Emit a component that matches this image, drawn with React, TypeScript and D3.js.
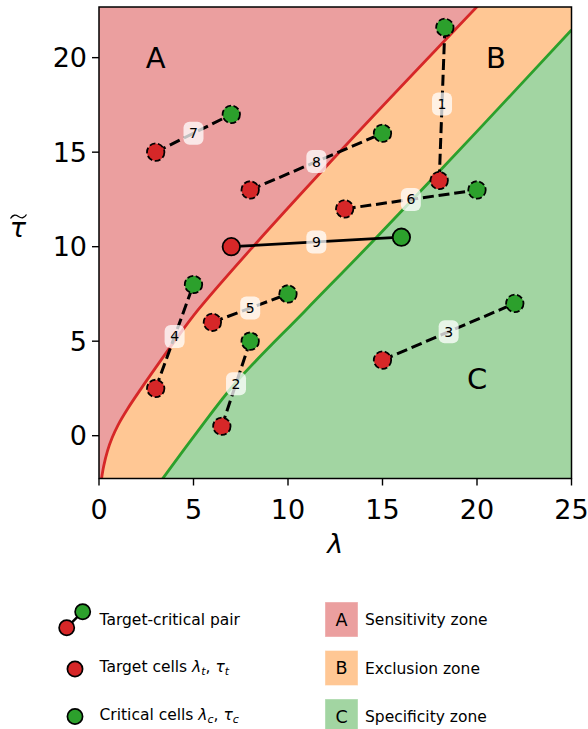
import React from "react";
import * as d3 from "d3";

// pairs of target / critical cells
const pairIds = [1, 2, 3, 4, 5, 6, 7, 8, 9];
const targetLambda = [18, 6.5, 15, 3, 6, 13, 3, 8, 7];
const targetTau = [13.5, 0.5, 4, 2.5, 6, 12, 15, 13, 10];
const criticalLambda = [18.3, 8, 22, 5, 10, 20, 7, 15, 16];
const criticalTau = [21.6, 5, 7, 8, 7.5, 13, 17, 16, 10.5];
const solidPairs = [9];

// zone boundaries
const sensitivityLambda = [0.13, 0.25, 0.45, 0.7, 1.0, 1.5, 2.2, 3.0, 4.0, 5.24, 8.06, 13, 20.1];
const sensitivityTau = [-2.3, -1.6, -0.8, -0.1, 0.55, 1.4, 2.45, 3.6, 5.0, 6.65, 9.9, 15.3, 22.8];
const specificityLambda = [3.35, 5.2, 7.23, 10.9, 14.59, 20, 25];
const specificityTau = [-2.3, 0.2, 2.8, 6.6, 10.39, 16.1, 21.47];

const zoneLetters = ["A", "B", "C"];
const zoneNames = ["Sensitivity zone", "Exclusion zone", "Specificity zone"];
const zoneLetterLambda = [3, 21, 20];
const zoneLetterTau = [20, 20, 3];

const ticks = [0, 5, 10, 15, 20, 25];
const yTicks = [0, 5, 10, 15, 20];

const RED = "#d62728";
const GREEN = "#2ca02c";
const zoneFill = ["#eb9f9f", "#ffc794", "#a2d5a2"];

const FONT = "DejaVu Sans, sans-serif";

export default function App() {
  const width = 588,
    height = 729;

  const x = d3.scaleLinear().domain([0, 25]).range([99, 571.5]);
  const y = d3.scaleLinear().domain([-2.265, 22.68]).range([478.5, 7]);
  const [x0, x1] = x.domain();
  const [y0, y1] = y.domain();

  const curve = d3
    .line<[number, number]>()
    .x(d => x(d[0]))
    .y(d => y(d[1]))
    .curve(d3.curveCatmullRom.alpha(0.5));

  const redPts = sensitivityLambda.map((l, i) => [l, sensitivityTau[i]] as [number, number]);
  const greenPts = specificityLambda.map((l, i) => [l, specificityTau[i]] as [number, number]);

  const bZone =
    curve(redPts) +
    `L${x(x1 + 1)},${y(y1 + 1)}L${x(x1 + 1)},${y(y0 - 1)}L${x(redPts[0][0])},${y(y0 - 1)}Z`;
  const cZone =
    curve(greenPts) + `L${x(x1 + 1)},${y(y0 - 1)}L${x(greenPts[0][0])},${y(y0 - 1)}Z`;

  const pairs = pairIds.map((id, i) => ({
    id,
    tx: x(targetLambda[i]),
    ty: y(targetTau[i]),
    cx: x(criticalLambda[i]),
    cy: y(criticalTau[i]),
    solid: solidPairs.includes(id)
  }));

  return (
    <div style={{ position: "absolute", left: 0, top: 0 }}>
      <svg width={width} height={height} style={{ display: "block", fontFamily: FONT }}>
        <defs>
          <clipPath id="plot">
            <rect x={x(x0)} y={y(y1)} width={x(x1) - x(x0)} height={y(y0) - y(y1)} />
          </clipPath>
        </defs>

        <g clipPath="url(#plot)">
          <rect x={x(x0)} y={y(y1)} width={x(x1) - x(x0)} height={y(y0) - y(y1)} fill={zoneFill[0]} />
          <path d={bZone} fill={zoneFill[1]} />
          <path d={cZone} fill={zoneFill[2]} />
          <path d={curve(redPts) || ""} fill="none" stroke={RED} strokeWidth={2.8} />
          <path d={curve(greenPts) || ""} fill="none" stroke={GREEN} strokeWidth={2.8} />

          {zoneLetters.map((z, i) => (
            <text
              key={z}
              x={x(zoneLetterLambda[i])}
              y={y(zoneLetterTau[i])}
              dy="0.36em"
              textAnchor="middle"
              fontSize={29}
            >
              {z}
            </text>
          ))}

          {pairs.map(p => (
            <line
              key={"l" + p.id}
              x1={p.tx}
              y1={p.ty}
              x2={p.cx}
              y2={p.cy}
              stroke="black"
              strokeWidth={p.solid ? 2.8 : 3}
              strokeDasharray={p.solid ? undefined : "11,4.8"}
            />
          ))}

          {pairs.map(p => {
            const mx = (p.tx + p.cx) / 2,
              my = (p.ty + p.cy) / 2;
            return (
              <g key={"t" + p.id}>
                <rect x={mx - 10} y={my - 11.5} width={20} height={23} rx={6} fill="white" fillOpacity={0.75} />
                <text x={mx} y={my} dy="0.36em" textAnchor="middle" fontSize={14}>
                  {p.id}
                </text>
              </g>
            );
          })}

          {pairs.map(p => (
            <g key={"m" + p.id}>
              <circle
                cx={p.tx}
                cy={p.ty}
                r={8.7}
                fill={RED}
                stroke="black"
                strokeWidth={1.8}
                strokeDasharray={p.solid ? undefined : "6,2.6"}
              />
              <circle
                cx={p.cx}
                cy={p.cy}
                r={8.7}
                fill={GREEN}
                stroke="black"
                strokeWidth={1.8}
                strokeDasharray={p.solid ? undefined : "6,2.6"}
              />
            </g>
          ))}
        </g>

        {/* frame */}
        <rect
          x={x(x0)}
          y={y(y1)}
          width={x(x1) - x(x0)}
          height={y(y0) - y(y1)}
          fill="none"
          stroke="black"
          strokeWidth={1.5}
        />

        {/* x axis */}
        {ticks.map(t => (
          <g key={"x" + t}>
            <line x1={x(t)} x2={x(t)} y1={y(y0)} y2={y(y0) + 7} stroke="black" strokeWidth={1.4} />
            <text x={x(t)} y={518.5} textAnchor="middle" fontSize={27}>
              {t}
            </text>
          </g>
        ))}
        <text x={x(12.5)} y={553} textAnchor="middle" fontSize={27} fontStyle="italic">
          λ
        </text>

        {/* y axis */}
        {yTicks.map(t => (
          <g key={"y" + t}>
            <line x1={x(x0) - 7} x2={x(x0)} y1={y(t)} y2={y(t)} stroke="black" strokeWidth={1.4} />
            <text x={x(x0) - 12} y={y(t)} dy="0.36em" textAnchor="end" fontSize={27}>
              {t}
            </text>
          </g>
        ))}
        <text x={18} y={237} textAnchor="middle" fontSize={27} fontStyle="italic">
          τ
        </text>
        <path
          d="M10.5,218.5 C13,214.5 15.5,214.5 18.5,216.5 C21.5,218.5 24,218.5 26.5,214.5"
          fill="none"
          stroke="black"
          strokeWidth={1.3}
        />

        {/* legend, left column */}
        <g fontSize={15.5}>
          <line x1={66.7} y1={627.7} x2={82.7} y2={611.7} stroke="black" strokeWidth={2.5} />
          <circle cx={66.7} cy={627.7} r={7.6} fill={RED} stroke="black" strokeWidth={1.7} />
          <circle cx={82.7} cy={611.7} r={7.6} fill={GREEN} stroke="black" strokeWidth={1.7} />
          <text x={99.5} y={624.5}>Target-critical pair</text>

          <circle cx={75} cy={669} r={7.6} fill={RED} stroke="black" strokeWidth={1.7} />
          <text x={99.5} y={672}>
            Target cells <tspan fontStyle="italic">λ</tspan>
            <tspan fontStyle="italic" fontSize={11} dy={3}>t</tspan>
            <tspan dy={-3}>, </tspan>
            <tspan fontStyle="italic">τ</tspan>
            <tspan fontStyle="italic" fontSize={11} dy={3}>t</tspan>
          </text>

          <circle cx={75} cy={716.5} r={7.6} fill={GREEN} stroke="black" strokeWidth={1.7} />
          <text x={99.5} y={720}>
            Critical cells <tspan fontStyle="italic">λ</tspan>
            <tspan fontStyle="italic" fontSize={11} dy={3}>c</tspan>
            <tspan dy={-3}>, </tspan>
            <tspan fontStyle="italic">τ</tspan>
            <tspan fontStyle="italic" fontSize={11} dy={3}>c</tspan>
          </text>
        </g>

        {/* legend, right column */}
        <g fontSize={15.5}>
          {zoneLetters.map((z, i) => {
            const top = 602 + i * 48.5;
            return (
              <g key={"lg" + z}>
                <rect x={325} y={top} width={33} height={35} fill={zoneFill[i]} stroke="white" strokeOpacity={0.4} />
                <text x={341.5} y={top + 17.5} dy="0.36em" textAnchor="middle" fontSize={17.5}>
                  {z}
                </text>
                <text x={365} y={top + 17.5} dy="0.36em">
                  {zoneNames[i]}
                </text>
              </g>
            );
          })}
        </g>
      </svg>
    </div>
  );
}
